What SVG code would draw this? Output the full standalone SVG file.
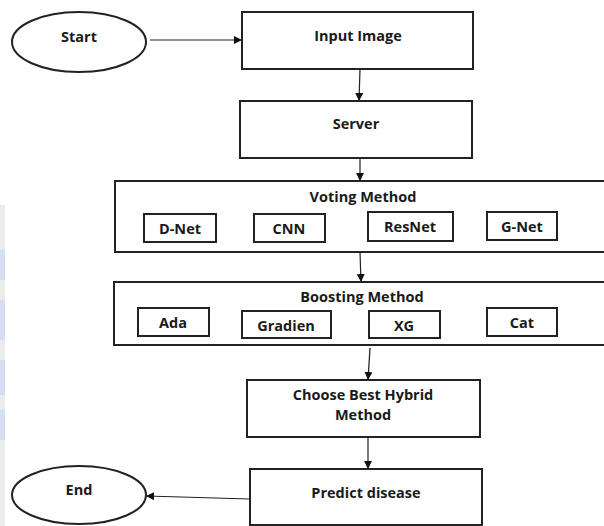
<svg xmlns="http://www.w3.org/2000/svg" width="604" height="526" viewBox="0 0 604 526">
<defs>
<style>
.box{fill:#fff;stroke:#222;stroke-width:2}
.sub{fill:#fff;stroke:#222;stroke-width:2}
.t{font-family:"Open Sans","Liberation Sans",sans-serif;font-weight:700;font-size:14.5px;fill:#1a1a1a;text-anchor:middle}
.c{stroke:#222;stroke-width:1.2;fill:none;marker-end:url(#ah)}
.wm{fill:#d6def4}
</style>
<marker id="ah" viewBox="0 0 10 10" refX="10" refY="5" markerWidth="8" markerHeight="8" markerUnits="userSpaceOnUse" orient="auto">
<path d="M0,0 L10,5 L0,10 z" fill="#111"/>
</marker>
</defs>
<rect width="604" height="526" fill="#fff"/>
<g id="watermark">
<rect x="0" y="205" width="5" height="321" fill="#ebebeb"/>
<rect class="wm" x="0" y="250" width="5" height="30"/>
<rect class="wm" x="0" y="300" width="5" height="40"/>
<rect class="wm" x="0" y="360" width="5" height="35"/>
<rect class="wm" x="0" y="410" width="5" height="30"/>
</g>
<g id="connectors">
<line class="c" x1="150" y1="40" x2="242" y2="40"/>
<line class="c" x1="360" y1="69" x2="359" y2="101"/>
<line class="c" x1="360" y1="158" x2="360" y2="181"/>
<line class="c" x1="360" y1="252" x2="361" y2="282"/>
<line class="c" x1="370" y1="348" x2="368" y2="380"/>
<line class="c" x1="368" y1="437" x2="368" y2="469"/>
<line class="c" x1="250" y1="499" x2="146" y2="496"/>
</g>
<g id="start">
<ellipse class="box" cx="79" cy="42" rx="67" ry="30"/>
<text class="t" x="79" y="37" dy="5">Start</text>
</g>
<g id="input-image">
<rect class="box" x="242" y="12" width="231" height="57"/>
<text class="t" x="358" y="36" dy="5">Input Image</text>
</g>
<g id="server">
<rect class="box" x="240" y="101" width="232" height="57"/>
<text class="t" x="356" y="124" dy="5">Server</text>
</g>
<g id="voting-method">
<rect class="box" x="115" y="181" width="495" height="71"/>
<text class="t" x="363" y="197" dy="5">Voting Method</text>
<g id="d-net"><rect class="sub" x="144" y="214" width="72" height="28"/><text class="t" x="180" y="229" dy="5">D-Net</text></g>
<g id="cnn"><rect class="sub" x="254" y="214" width="71" height="28"/><text class="t" x="289" y="229" dy="5">CNN</text></g>
<g id="resnet"><rect class="sub" x="368" y="212" width="85" height="29"/><text class="t" x="410" y="227" dy="5">ResNet</text></g>
<g id="g-net"><rect class="sub" x="487" y="212" width="70" height="28"/><text class="t" x="522" y="227" dy="5">G-Net</text></g>
</g>
<g id="boosting-method">
<rect class="box" x="114" y="282" width="496" height="63"/>
<text class="t" x="362" y="297" dy="5">Boosting Method</text>
<g id="ada"><rect class="sub" x="138" y="308" width="71" height="28"/><text class="t" x="173" y="323" dy="5">Ada</text></g>
<g id="gradien"><rect class="sub" x="242" y="311" width="89" height="27"/><text class="t" x="286" y="326" dy="5">Gradien</text></g>
<g id="xg"><rect class="sub" x="369" y="311" width="71" height="27"/><text class="t" x="404" y="326" dy="5">XG</text></g>
<g id="cat"><rect class="sub" x="487" y="308" width="70" height="28"/><text class="t" x="522" y="323" dy="5">Cat</text></g>
</g>
<g id="choose-best">
<rect class="box" x="247" y="380" width="233" height="57"/>
<text class="t" x="363" y="395" dy="5">Choose Best Hybrid</text>
<text class="t" x="363" y="415" dy="5">Method</text>
</g>
<g id="predict-disease">
<rect class="box" x="250" y="469" width="232" height="56"/>
<text class="t" x="366" y="493" dy="5">Predict disease</text>
</g>
<g id="end">
<ellipse class="box" cx="79" cy="495" rx="67" ry="29"/>
<text class="t" x="79" y="490" dy="5">End</text>
</g>
</svg>
